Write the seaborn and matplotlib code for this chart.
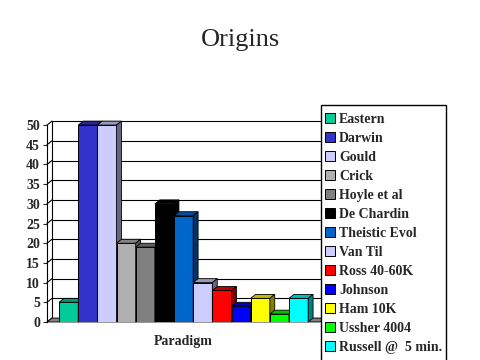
import numpy as np
import pandas as pd
import matplotlib
matplotlib.use("Agg")
import matplotlib.pyplot as plt
import seaborn as sns
from matplotlib.colors import to_rgb
from matplotlib.patches import Polygon, Rectangle

# Data
theories = ["Eastern", "Darwin", "Gould", "Crick", "Hoyle et al", "De Chardin",
            "Theistic Evol", "Van Til", "Ross 40-60K", "Johnson", "Ham 10K",
            "Ussher 4004", "Russell @  5 min."]
votes = [5, 50, 50, 20, 19, 30, 27, 10, 8, 4, 6, 2, 6]
colors = ["#00CC99", "#3333CC", "#CCCCFF", "#B0B0B0", "#808080", "#000000",
          "#0066CC", "#CCCCFF", "#FF0000", "#0000FF", "#FFFF00", "#00FF00", "#00FFFF"]
group = "Paradigm"
yticks = list(range(0, 55, 5))

df = pd.DataFrame({"group": [group] * len(theories), "theory": theories, "votes": votes})

sns.set_style("white")
plt.rcParams["font.family"] = ["Liberation Serif", "DejaVu Serif"]

fig = plt.figure(figsize=(4.8, 3.6), dpi=100)
ax = fig.add_axes([0.098, 0.1056, 0.569, 0.547])

sns.barplot(data=df, x="group", y="votes", hue="theory", hue_order=theories,
            palette=colors, width=0.912, dodge=True, ax=ax,
            edgecolor="black", linewidth=0.7, saturation=1)

handles, labels = ax.get_legend_handles_labels()
if ax.get_legend() is not None:
    ax.get_legend().remove()

ax.set_xlim(-0.5, 0.5)
ax.set_ylim(0, 50)
ax.set_yticks(yticks)
ax.set_xlabel("")
ax.set_ylabel("")

# fake 3D depth
dx, dy = 0.018, 1.0

# back-wall grid
for t in yticks:
    ax.plot([-0.5, -0.5 + dx], [t, t + dy], color="black", lw=0.8, clip_on=False, zorder=1)
    ax.plot([-0.5 + dx, 0.5], [t + dy, t + dy], color="black", lw=0.8, clip_on=False, zorder=1)
ax.plot([-0.5 + dx, -0.5 + dx], [dy, 50 + dy], color="black", lw=0.8, clip_on=False, zorder=1)

# floor
floor = Polygon([(-0.5, 0), (-0.5 + dx, dy), (0.5 + dx, dy), (0.5, 0)], closed=True,
                facecolor="#808080", edgecolor="black", lw=0.6, clip_on=False, zorder=1.5)
ax.add_patch(floor)

for i, bar in enumerate(ax.patches[:len(theories)]):
    x, w, h = bar.get_x(), bar.get_width(), bar.get_height()
    base = np.array(to_rgb(bar.get_facecolor()))
    z = 2 + i * 0.1
    bar.set_zorder(z)
    top = Polygon([(x, h), (x + dx, h + dy), (x + w + dx, h + dy), (x + w, h)], closed=True,
                  facecolor=base * 0.75, edgecolor="black", lw=0.6, zorder=z + 0.01, clip_on=False)
    side = Polygon([(x + w, 0), (x + w + dx, dy), (x + w + dx, h + dy), (x + w, h)], closed=True,
                   facecolor=base * 0.5, edgecolor="black", lw=0.6, zorder=z + 0.02, clip_on=False)
    ax.add_patch(top)
    ax.add_patch(side)

for s in ["top", "right", "bottom"]:
    ax.spines[s].set_visible(False)
ax.spines["left"].set_color("black")
ax.spines["left"].set_linewidth(0.8)
ax.tick_params(axis="y", left=True, length=3, width=0.8, pad=2, labelsize=10)
ax.tick_params(axis="x", bottom=False, pad=6, labelsize=10)
for lab in ax.get_yticklabels() + ax.get_xticklabels():
    lab.set_fontweight("bold")

fig.text(0.5, 1 - 40 / 360, "Origins", ha="center", va="center", fontsize=19)

# legend box runs off the bottom of the image, as in the original
fig.patches.append(Rectangle((321 / 480, -0.05), 125 / 480, 1.05 - 105 / 360,
                             transform=fig.transFigure, facecolor="white",
                             edgecolor="black", lw=1.0, zorder=4))
leg = fig.legend(handles, labels, loc="upper left", bbox_to_anchor=(321 / 480, 1 - 109 / 360),
                 frameon=False, prop={"weight": "bold", "size": 10},
                 handlelength=0.7, handleheight=0.7, handletextpad=0.3,
                 labelspacing=0.43, borderpad=0.3, borderaxespad=0)
leg.set_zorder(5)

fig.savefig("out.png", dpi=100)
